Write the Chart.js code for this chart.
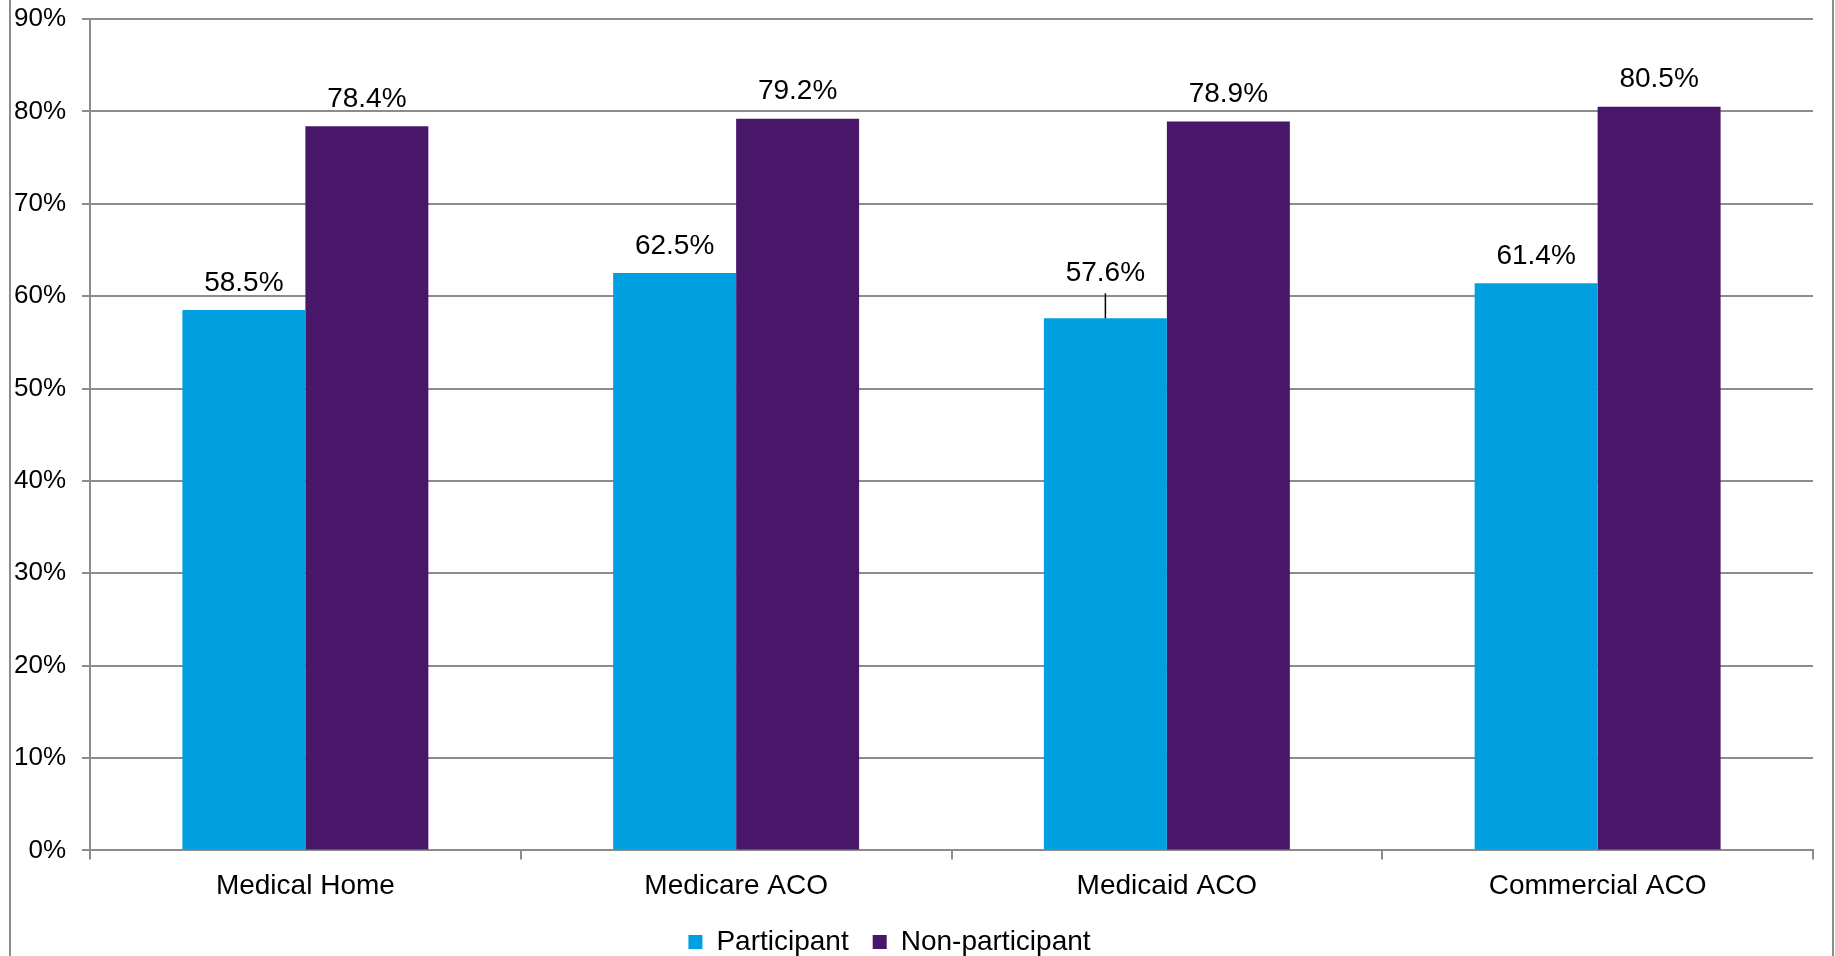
<!DOCTYPE html>
<html>
<head>
<meta charset="utf-8">
<script src="https://cdn.jsdelivr.net/npm/chart.js@4"></script>
<style>
  html, body { margin: 0; padding: 0; background: #fff; }
  #wrap { width: 1835px; height: 956px; position: relative; }
</style>
</head>
<body>
<div id="wrap"><canvas id="chart"></canvas></div>
<script>
const categories    = ['Medical Home', 'Medicare ACO', 'Medicaid ACO', 'Commercial ACO'];
const participant    = [58.5, 62.5, 57.6, 61.4];
const nonParticipant = [78.4, 79.2, 78.9, 80.5];
const seriesNames    = ['Participant', 'Non-participant'];
const yTicks         = [0, 10, 20, 30, 40, 50, 60, 70, 80, 90];

const FONT = 'Liberation Sans, Arial, sans-serif';
const GRID = '#8c8c8c';

// value labels above the bars (one label is lifted with a leader line)
const valueLabels = {
  id: 'valueLabels',
  afterDatasetsDraw(chart) {
    const ctx = chart.ctx;
    ctx.save();
    ctx.font = `28px ${FONT}`;
    ctx.fillStyle = '#000';
    ctx.textAlign = 'center';
    ctx.textBaseline = 'middle';
    chart.data.datasets.forEach((ds, di) => {
      chart.getDatasetMeta(di).data.forEach((bar, i) => {
        const lift = (di === 0 && i === 2) ? 18 : 0;
        const y = bar.y - 27 - lift;
        if (lift) {
          ctx.strokeStyle = '#000';
          ctx.lineWidth = 1.5;
          ctx.beginPath();
          ctx.moveTo(bar.x, y + 20);
          ctx.lineTo(bar.x, bar.y);
          ctx.stroke();
        }
        ctx.fillText(ds.data[i].toFixed(1) + '%', bar.x, y);
      });
    });
    ctx.restore();
  }
};

// outer frame (only the side edges are visible in the picture)
const frame = {
  id: 'frame',
  afterLayout(chart) {
    // legend sits a little left of the canvas centre
    chart.legend.left -= 22;
    chart.legend.right -= 22;
  },
  afterDraw(chart) {
    const ctx = chart.ctx;
    ctx.save();
    ctx.strokeStyle = GRID;
    ctx.lineWidth = 2;
    ctx.beginPath();
    ctx.moveTo(10, 0);  ctx.lineTo(10, chart.height);
    ctx.moveTo(1833, 0); ctx.lineTo(1833, chart.height);
    ctx.stroke();
    ctx.restore();
  }
};

new Chart(document.getElementById('chart'), {
  type: 'bar',
  data: {
    labels: categories,
    datasets: [
      { label: seriesNames[0], data: participant,    backgroundColor: '#009FDF' },
      { label: seriesNames[1], data: nonParticipant, backgroundColor: '#48176A' },
    ],
  },
  options: {
    responsive: true,
    maintainAspectRatio: false,
    animation: false,
    devicePixelRatio: 1,
    layout: { padding: { left: 10, right: 22, top: 19, bottom: -10 } },
    datasets: { bar: { barPercentage: 1, categoryPercentage: 0.571 } },
    scales: {
      x: {
        afterFit: scale => { scale.height -= 9; },
        grid: { drawOnChartArea: false, drawTicks: true, tickLength: 9, offset: true, color: GRID, lineWidth: 2 },
        border: { color: GRID, width: 2 },
        ticks: { font: { family: FONT, size: 28 }, color: '#000', padding: 10, maxRotation: 0 },
      },
      y: {
        min: 0,
        max: 90,
        afterBuildTicks: scale => { scale.ticks = yTicks.map(v => ({ value: v })); },
        afterFit: scale => { scale.width = 80; scale.paddingTop = 0; scale.paddingBottom = 0; },
        grid: { color: GRID, lineWidth: 2, tickLength: 8 },
        border: { color: GRID, width: 2 },
        ticks: {
          font: { family: FONT, size: 26 },
          color: '#000',
          padding: 16,
          callback: v => v + '%',
        },
      },
    },
    plugins: {
      legend: {
        position: 'bottom',
        labels: {
          font: { family: FONT, size: 28 },
          color: '#000',
          boxWidth: 14,
          boxHeight: 14,
          padding: 24,
        },
      },
      tooltip: { enabled: false },
    },
  },
  plugins: [valueLabels, frame],
});
</script>
</body>
</html>
